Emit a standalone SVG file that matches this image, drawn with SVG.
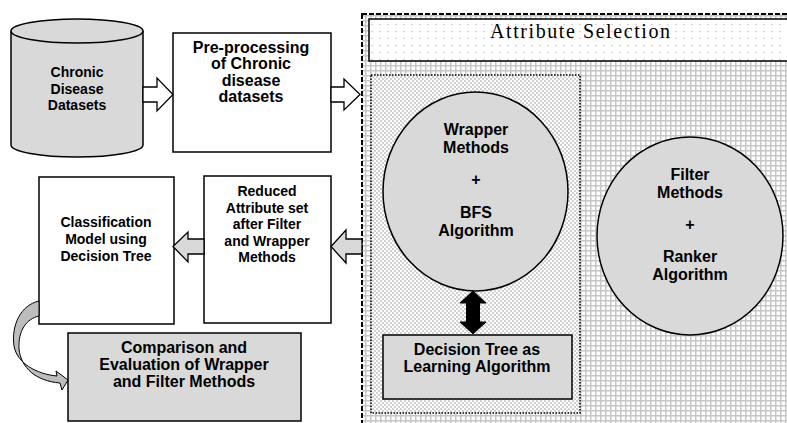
<svg xmlns="http://www.w3.org/2000/svg" width="787" height="423" viewBox="0 0 787 423">
<defs>
<pattern id="grid" width="5" height="5" patternUnits="userSpaceOnUse">
<rect width="5" height="5" fill="#ffffff"/>
<path d="M0,0.75H5M0.75,0V5" stroke="#c6c6c6" stroke-width="1.5"/>
</pattern>
<pattern id="dotsSparse" width="8" height="7" patternUnits="userSpaceOnUse">
<rect width="8" height="7" fill="#ffffff"/>
<circle cx="4" cy="3.5" r="0.8" fill="#c4c4c4"/>
</pattern>
<pattern id="dotsDense" width="4" height="4" patternUnits="userSpaceOnUse">
<rect width="4" height="4" fill="#ffffff"/>
<circle cx="1" cy="1" r="0.75" fill="#8c8c8c"/>
<circle cx="3" cy="3" r="0.75" fill="#8c8c8c"/>
</pattern>
</defs>
<style>
.b{font-family:"Liberation Sans",Arial,sans-serif;font-weight:bold;fill:#000;text-anchor:middle}
.f14{font-size:14px}
.f16{font-size:16px}
.box{fill:#ffffff;stroke:#000;stroke-width:1.5}
.gbox{fill:#d9d9d9;stroke:#000;stroke-width:1.5}
.hollow{fill:#ffffff;stroke:#000;stroke-width:1.3;stroke-linejoin:miter}
.grayarrow{fill:#d9d9d9;stroke:#000;stroke-width:1.3}
</style>

<g id="attribute-selection-region">
<rect x="362" y="14" width="440" height="420" fill="url(#grid)" stroke="#000" stroke-width="2" stroke-dasharray="5 2"/>
</g>

<g id="attribute-selection-header">
<rect x="369" y="19" width="430" height="42" fill="url(#dotsSparse)" stroke="#000" stroke-width="1.5"/>
<text x="580" y="37.5" font-family="'Liberation Serif','Times New Roman',serif" font-size="20" text-anchor="middle" textLength="180" lengthAdjust="spacing" fill="#000">Attribute Selection</text>
</g>

<g id="wrapper-region">
<rect x="371" y="75" width="209" height="338" fill="url(#dotsDense)" stroke="#000" stroke-width="1.5" stroke-dasharray="1.5 1.5"/>
</g>

<g id="datasets">
<path d="M11,31 V145 A66,12 0 0 0 143,145 V31" class="gbox"/>
<ellipse cx="77" cy="31" rx="66" ry="12" class="gbox"/>
<text class="b f14" x="77" y="77">Chronic</text>
<text class="b f14" x="77" y="93.5">Disease</text>
<text class="b f14" x="77" y="110">Datasets</text>
</g>

<g id="preprocessing">
<rect x="173" y="33" width="158" height="119" class="box"/>
<text class="b f16" x="251" y="52.5">Pre-processing</text>
<text class="b f16" x="251" y="69">of Chronic</text>
<text class="b f16" x="251" y="85.5">disease</text>
<text class="b f16" x="251" y="102">datasets</text>
</g>

<g id="wrapper-methods">
<ellipse cx="475.5" cy="191.5" rx="92.5" ry="99.5" class="gbox"/>
<text class="b f16" x="476" y="135">Wrapper</text>
<text class="b f16" x="476" y="153">Methods</text>
<text class="b f16" x="476" y="184.5">+</text>
<text class="b f16" x="476" y="217.5">BFS</text>
<text class="b f16" x="476" y="235.5">Algorithm</text>
</g>

<g id="decision-tree-learning">
<rect x="383" y="335" width="189" height="64" class="gbox"/>
<text class="b f16" x="477" y="355">Decision Tree as</text>
<text class="b f16" x="477" y="371.5">Learning Algorithm</text>
</g>

<g id="filter-methods">
<ellipse cx="690" cy="236" rx="93" ry="99" class="gbox"/>
<text class="b f16" x="690" y="180">Filter</text>
<text class="b f16" x="690" y="197.5">Methods</text>
<text class="b f16" x="690" y="229.5">+</text>
<text class="b f16" x="690" y="261.5">Ranker</text>
<text class="b f16" x="690" y="280">Algorithm</text>
</g>

<g id="reduced-attributes">
<rect x="204" y="176" width="127" height="147" class="box"/>
<text class="b f14" x="267" y="196">Reduced</text>
<text class="b f14" x="267" y="212.5">Attribute set</text>
<text class="b f14" x="267" y="229">after Filter</text>
<text class="b f14" x="267" y="245.5">and Wrapper</text>
<text class="b f14" x="267" y="262">Methods</text>
</g>

<g id="classification-model">
<rect x="39" y="177" width="135" height="147" class="box"/>
<text class="b f14" x="106" y="227">Classification</text>
<text class="b f14" x="106" y="244">Model using</text>
<text class="b f14" x="106" y="261">Decision Tree</text>
</g>

<g id="comparison">
<rect x="68" y="333" width="233" height="88" class="gbox"/>
<text class="b f16" x="184" y="353">Comparison and</text>
<text class="b f16" x="184" y="370">Evaluation of Wrapper</text>
<text class="b f16" x="184" y="386.5">and Filter Methods</text>
</g>

<g id="connectors">
<polygon class="hollow" points="143,87 157,87 157,78 173,94.5 157,111 157,102 143,102"/>
<polygon class="hollow" points="331,87 344,87 344,79 360,94.5 344,110 344,102 331,102"/>
<polygon class="grayarrow" points="362,239 346,239 346,230 331,246.5 346,263 346,254 362,254"/>
<polygon class="grayarrow" points="204,239 188,239 188,232 173,246.5 188,262 188,254 204,254"/>
<polygon fill="#000" stroke="#000" stroke-width="1" points="473,291 486,303 479.5,303 479.5,322 486,322 473,334 460,322 466.5,322 466.5,303 460,303"/>
<path d="M39,301 C21,305 11,325 14,346 C17,363 36,374 57,376 L56,371 L68,380 L62,390 L60,383 C36,381 21,368 19,349 C18,331 26,319 39,316 Z" fill="#bdbdbd" stroke="#000" stroke-width="1"/>
</g>
</svg>
